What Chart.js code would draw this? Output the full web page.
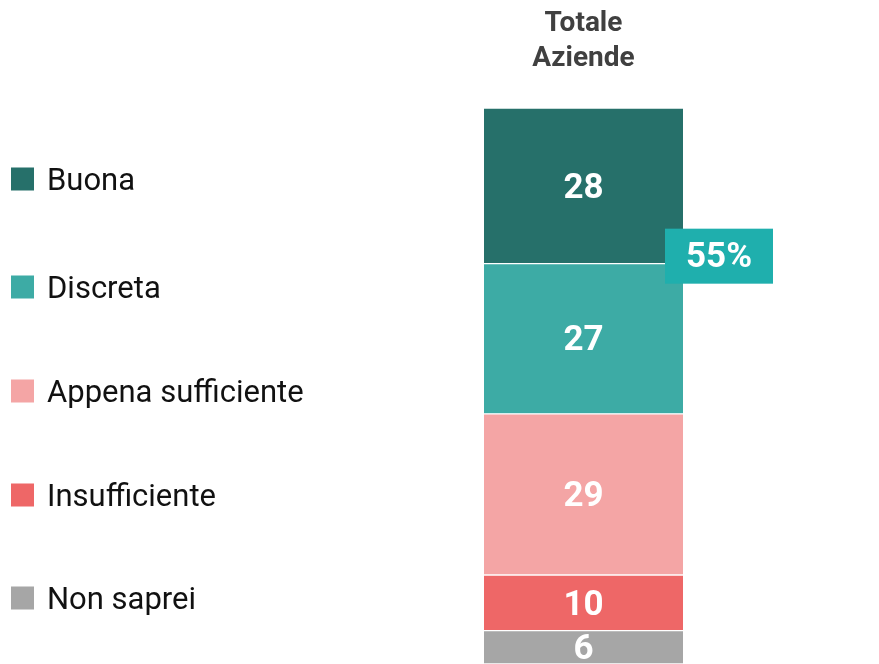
<!DOCTYPE html>
<html>
<head>
<meta charset="utf-8">
<script src="https://cdn.jsdelivr.net/npm/chart.js@4/dist/chart.umd.min.js"></script>
<style>
	html, body { margin: 0; padding: 0; background: #fff; }
	#wrap { width: 879px; height: 664px; position: relative; }
</style>
</head>
<body>
<div id="wrap"><canvas id="chart" width="879" height="664"></canvas></div>
<script>
// values, top segment first
const categories = ['Totale Aziende'];
const seriesLabels = ['Buona', 'Discreta', 'Appena sufficiente', 'Insufficiente', 'Non saprei'];
const seriesValues = [28, 27, 29, 10, 6];
const seriesColors = ['#26706a', '#3daba5', '#f4a5a5', '#ee6767', '#a6a6a6'];
const titleLines = ['Totale', 'Aziende'];
const positiveShare = '55%';

const FONT = 'Roboto, "Noto Sans", sans-serif';
// legend row centres (layout only)
const legendRows = [179, 287, 391, 495, 598];

// Chart.js stacks from dataset 0 upward, so build bottom-first
const datasets = seriesLabels
	.map((label, i) => ({
		label,
		data: [seriesValues[i]],
		backgroundColor: seriesColors[i],
		borderColor: '#ffffff',
		borderWidth: { top: 1, bottom: 1, left: 0, right: 0 },
		borderSkipped: false,
		barThickness: 199,
	}))
	.reverse();

const decorPlugin = {
	id: 'decor',
	afterDatasetsDraw(chart) {
		const ctx = chart.ctx;
		const x = chart.scales.x;
		const y = chart.scales.y;
		const cx = x.getPixelForValue(0);

		ctx.save();
		// segment values
		ctx.fillStyle = '#ffffff';
		ctx.font = 'bold 35px ' + FONT;
		ctx.textAlign = 'center';
		ctx.textBaseline = 'middle';
		chart.data.datasets.forEach((ds, i) => {
			const bar = chart.getDatasetMeta(i).data[0];
			const mid = (bar.y + bar.base) / 2;
			ctx.fillText(String(ds.data[0]), cx, mid + 3);
		});

		// column title
		ctx.fillStyle = '#404040';
		ctx.font = 'bold 28px ' + FONT;
		titleLines.forEach((t, i) => ctx.fillText(t, cx, 24 + i * 35));

		// 55% callout box at the Buona/Discreta boundary
		const rest = seriesValues.slice(1).reduce((a, b) => a + b, 0);
		const boundary = y.getPixelForValue(rest);
		const barRight = cx + 99.5;
		ctx.fillStyle = '#1fafad';
		ctx.fillRect(barRight - 18, boundary - 35, 108, 55);
		ctx.fillStyle = '#ffffff';
		ctx.font = 'bold 35px ' + FONT;
		ctx.fillText(positiveShare, barRight - 18 + 54, boundary - 5);

		// legend, top to bottom
		ctx.textAlign = 'left';
		ctx.font = '31px ' + FONT;
		seriesLabels.forEach((label, i) => {
			const ly = legendRows[i];
			ctx.fillStyle = seriesColors[i];
			ctx.fillRect(11, ly - 11.5, 23, 23);
			ctx.fillStyle = '#111111';
			ctx.fillText(label, 47, ly + 3);
		});
		ctx.restore();
	},
};

new Chart(document.getElementById('chart').getContext('2d'), {
	type: 'bar',
	data: { labels: categories, datasets },
	options: {
		responsive: false,
		animation: false,
		layout: { padding: { left: 384, right: 96, top: 108, bottom: 0 } },
		scales: {
			x: { stacked: true, display: false },
			y: { stacked: true, display: false, min: 0, max: 100 },
		},
		plugins: {
			legend: { display: false },
			tooltip: { enabled: false },
		},
	},
	plugins: [decorPlugin],
});
</script>
</body>
</html>
